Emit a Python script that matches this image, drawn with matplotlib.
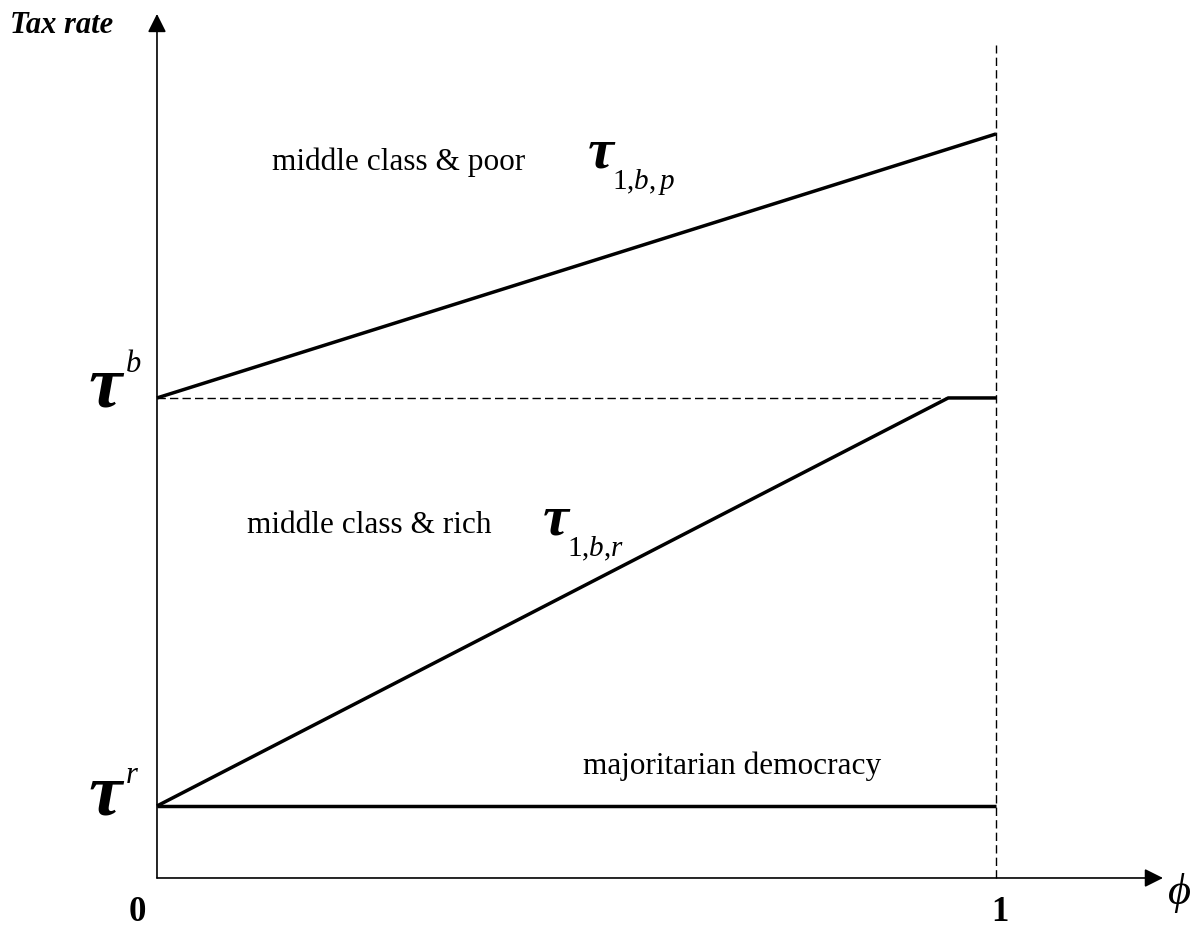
import matplotlib
matplotlib.use('Agg')
from matplotlib import pyplot as plt

plt.rcParams['font.family'] = ['Liberation Serif', 'DejaVu Serif']
plt.rcParams['mathtext.fontset'] = 'custom'
plt.rcParams['mathtext.rm'] = 'Liberation Serif'
plt.rcParams['mathtext.it'] = 'Liberation Serif:italic'
plt.rcParams['mathtext.bf'] = 'Liberation Serif:bold'

# phi on x, tax rate on y (tau^b = 1, tau^r = 0.15)
tau_r = 0.15
tau_b = 1.0
phi_poor = [0, 1]
tax_poor = [1.0, 1.55]
phi_rich = [0, 0.943, 1]
tax_rich = [0.15, 1.0, 1.0]
phi_maj = [0, 1]
tax_maj = [0.15, 0.15]
x_ticks = ['0', '1']

fig = plt.figure(figsize=(12, 9.33), dpi=100)
ax = fig.add_axes([0, 0, 1, 1])
ax.set_xlim(-0.1871, 1.2431)
ax.set_ylim(-0.1146, 1.829)
ax.axis('off')

# axes with arrows
arr = dict(arrowstyle='-|>', mutation_scale=28, lw=1.2, color='black',
           shrinkA=0, shrinkB=0)
ax.annotate('', xy=(1.199, 0), xytext=(0, 0), arrowprops=arr)
ax.annotate('', xy=(0, 1.80), xytext=(0, 0), arrowprops=arr)

# dashed guides
ax.plot([1, 1], [0, 1.735], ls=(0, (6, 3)), lw=1.0, color='black')
ax.plot([0, phi_rich[1]], [tau_b, tau_b], ls=(0, (6, 3)), lw=1.0, color='black')

# the three regimes
ax.plot(phi_poor, tax_poor, lw=2.5, color='black', solid_capstyle='butt')
ax.plot(phi_rich, tax_rich, lw=2.5, color='black', solid_capstyle='butt')
ax.plot(phi_maj, tax_maj, lw=2.5, color='black', solid_capstyle='butt')

# labels
ax.text(-0.175, 1.775, 'Tax rate', fontsize=22, weight='bold', style='italic',
        va='center', ha='left')
ax.text(0.137, 1.49, 'middle class & poor', fontsize=22.5, va='center', ha='left')
ax.text(0.107, 0.735, 'middle class & rich', fontsize=22.5, va='center', ha='left')
ax.text(0.508, 0.232, 'majoritarian democracy', fontsize=22.5, va='center', ha='left')

tau_kw = dict(weight='bold', style='italic', va='center', ha='left')
ax.text(0.513, 1.51, 'τ', fontsize=42, **tau_kw)
ax.text(0.542, 1.45, r'$1{,}b{,}\,p$', fontsize=21, va='center', ha='left')
ax.text(0.46, 0.745, 'τ', fontsize=42, **tau_kw)
ax.text(0.489, 0.685, r'$1{,}b{,}r$', fontsize=21, va='center', ha='left')

ax.text(-0.082, tau_b + 0.02, 'τ', fontsize=54, **tau_kw)
ax.text(-0.037, tau_b + 0.07, 'b', fontsize=22, style='italic', va='center', ha='left')
ax.text(-0.082, tau_r + 0.02, 'τ', fontsize=54, **tau_kw)
ax.text(-0.037, tau_r + 0.064, 'r', fontsize=22, style='italic', va='center', ha='left')

for xv, lab in zip([0, 1], x_ticks):
    ax.text(xv - 0.024 if xv == 0 else xv + 0.005, -0.071, lab, fontsize=25,
            weight='bold', va='center', ha='center')
ax.text(1.219, -0.031, 'ϕ', fontsize=32, style='italic', va='center', ha='center')

plt.savefig('out.png', format='png', dpi=100)
plt.close()
